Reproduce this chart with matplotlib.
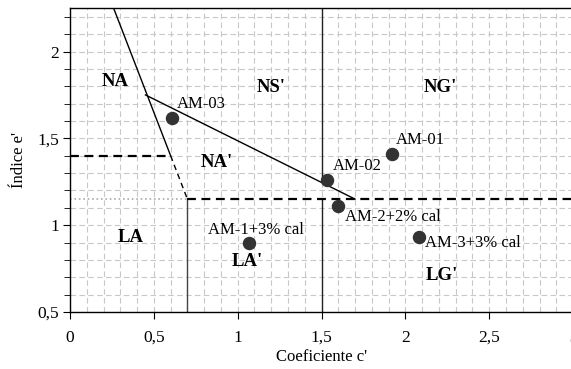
import numpy as np
import matplotlib
matplotlib.use('Agg')
import matplotlib.pyplot as plt
from matplotlib.ticker import MultipleLocator, FuncFormatter

plt.rcParams['font.family'] = ['Liberation Serif', 'DejaVu Serif']

# samples (c', e')
names = ['AM-01', 'AM-02', 'AM-03', 'AM-1+3% cal', 'AM-2+2% cal', 'AM-3+3% cal']
c_vals = [1.92, 1.53, 0.61, 1.07, 1.60, 2.08]
e_vals = [1.41, 1.26, 1.62, 0.90, 1.11, 0.93]
label_xy = [(1.945, 1.49), (1.565, 1.34), (0.635, 1.695),
            (0.82, 0.97), (1.64, 1.045), (2.12, 0.90)]

# classification zones
zones = ['NA', "NS'", "NG'", "NA'", 'LA', "LA'", "LG'"]
zone_xy = [(0.27, 1.83), (1.20, 1.79), (2.21, 1.79), (0.875, 1.36),
           (0.36, 0.93), (1.06, 0.79), (2.22, 0.71)]

# boundary lines
steep_x, steep_y = [0.26, 0.60], [2.25, 1.40]
steep_dash_x, steep_dash_y = [0.60, 0.70], [1.40, 1.15]
diag_x, diag_y = [0.45, 1.70], [1.75, 1.15]

fig = plt.figure(figsize=(5.71, 3.69), dpi=100)
ax = fig.add_axes([0.1226, 0.1545, 0.881, 0.8235])
ax.set_xlim(0, 3)
ax.set_ylim(0.5, 2.25)

ax.xaxis.set_major_locator(MultipleLocator(0.5))
ax.xaxis.set_minor_locator(MultipleLocator(0.1))
ax.yaxis.set_major_locator(MultipleLocator(0.5))
ax.yaxis.set_minor_locator(MultipleLocator(0.1))
fmt = FuncFormatter(lambda v, p: ('%g' % v).replace('.', ','))
ax.xaxis.set_major_formatter(fmt)
ax.yaxis.set_major_formatter(fmt)

ax.grid(which='both', color='#c8c8c8', linestyle=(0, (5, 3)), linewidth=0.8)
ax.set_axisbelow(True)
ax.tick_params(axis='x', which='major', direction='out', length=5, pad=8, labelsize=12.5)
ax.tick_params(axis='x', which='minor', length=0)
ax.tick_params(axis='y', which='major', direction='out', length=5, pad=3, labelsize=12.5)
ax.tick_params(axis='y', which='minor', direction='out', length=4)
for s in ax.spines.values():
    s.set_linewidth(1.0)

ax.plot(steep_x, steep_y, color='black', lw=1)
ax.plot(steep_dash_x, steep_dash_y, color='black', lw=1, ls=(0, (4, 3)))
ax.plot(diag_x, diag_y, color='black', lw=1)
ax.plot([1.5, 1.5], [1.246, 2.25], color='#222222', lw=1)
ax.plot([1.5, 1.5], [0.5, 1.15], color='#222222', lw=1)
ax.plot([0.7, 0.7], [0.5, 1.15], color='#444444', lw=1)
ax.plot([0, 0.6], [1.4, 1.4], color='black', lw=1.6, ls=(0, (4, 2.5)))
ax.plot([0.7, 3], [1.15, 1.15], color='black', lw=1.6, ls=(0, (4, 2.5)))
ax.plot([0, 0.7], [1.15, 1.15], color='#aaaaaa', lw=1.2, ls=':')

ax.scatter(c_vals, e_vals, s=75, color='#333333', zorder=5)
for n, (tx, ty) in zip(names, label_xy):
    ax.text(tx, ty, n, fontsize=12, va='center', ha='left', zorder=6)
for z, (zx, zy) in zip(zones, zone_xy):
    ax.text(zx, zy, z, fontsize=13.5, fontweight='bold', ha='center', va='center')

ax.set_xlabel("Coeficiente c'", fontsize=12, labelpad=2)
ax.set_ylabel("Índice e'", fontsize=12, labelpad=7)

fig.savefig('out.png', dpi=100)
